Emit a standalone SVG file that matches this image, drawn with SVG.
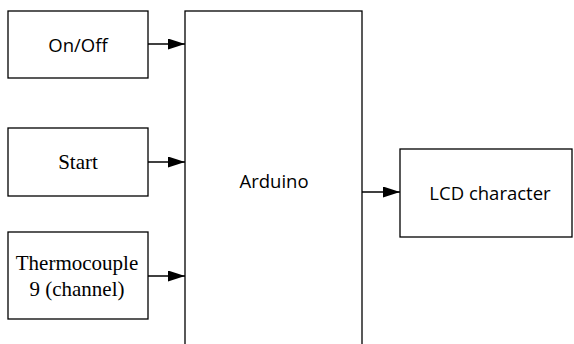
<svg xmlns="http://www.w3.org/2000/svg" width="574" height="344" viewBox="0 0 574 344">
<style>
.box{fill:#fff;stroke:#000;stroke-width:1.3}
.sans{font-family:"Open Sans","Noto Sans",sans-serif;font-size:18.5px;fill:#000}
.serif{font-family:"Liberation Serif","Times New Roman",serif;font-size:21px;fill:#000}
.conn{stroke:#000;stroke-width:1.3;fill:none}
</style>
<defs>
<marker id="arr" markerUnits="userSpaceOnUse" markerWidth="18" markerHeight="12" refX="17" refY="5.5" orient="auto">
<path d="M0,0 L17,5.5 L0,11 Z" fill="#000"/>
</marker>
</defs>
<rect width="574" height="344" fill="#fff"/>
<g id="onoff">
<rect class="box" x="8" y="11" width="140" height="67"/>
<text class="sans" x="78" y="52" text-anchor="middle">On/Off</text>
</g>
<g id="start">
<rect class="box" x="8" y="128" width="140" height="68"/>
<text class="serif" x="78" y="169" text-anchor="middle">Start</text>
</g>
<g id="thermocouple">
<rect class="box" x="8" y="232" width="140" height="87"/>
<text class="serif" x="77" y="270" text-anchor="middle">Thermocouple</text>
<text class="serif" x="77" y="296" text-anchor="middle">9 (channel)</text>
</g>
<g id="arduino">
<rect class="box" x="185" y="11" width="177" height="340"/>
<text class="sans" x="274" y="188" text-anchor="middle">Arduino</text>
</g>
<g id="lcd">
<rect class="box" x="400" y="149" width="172" height="88"/>
<text class="sans" x="490" y="200" text-anchor="middle">LCD character</text>
</g>
<g id="connectors">
<line class="conn" x1="148" y1="44" x2="185" y2="44" marker-end="url(#arr)"/>
<line class="conn" x1="148" y1="162" x2="185" y2="162" marker-end="url(#arr)"/>
<line class="conn" x1="148" y1="276" x2="185" y2="276" marker-end="url(#arr)"/>
<line class="conn" x1="362" y1="192" x2="400" y2="192" marker-end="url(#arr)"/>
</g>
</svg>
